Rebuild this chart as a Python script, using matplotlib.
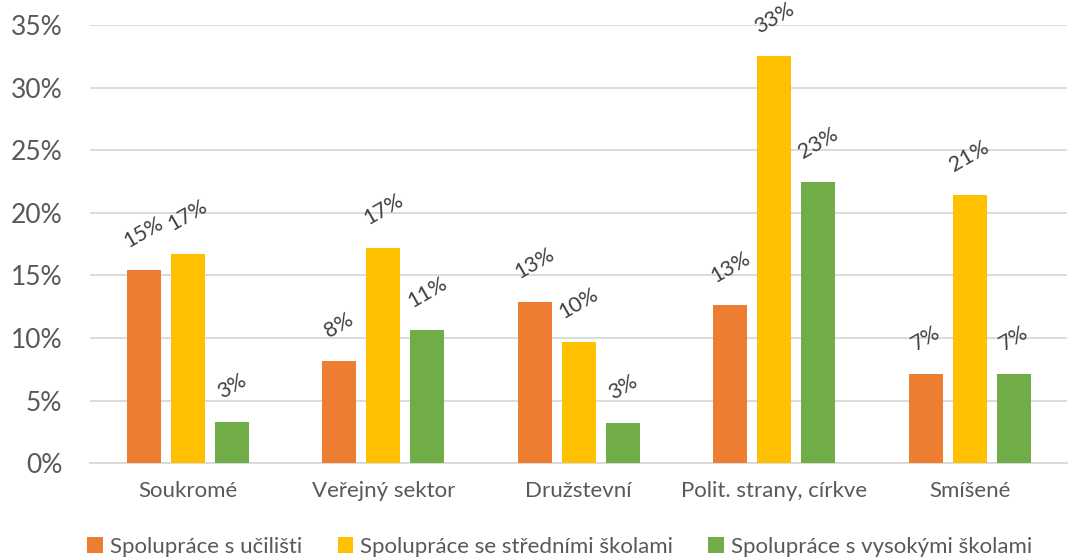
import matplotlib
matplotlib.use("Agg")
import matplotlib.pyplot as plt
import numpy as np

categories = ["Soukromé", "Veřejný sektor", "Družstevní", "Polit. strany, církve", "Smíšené"]
series_names = ["Spolupráce s učilišti", "Spolupráce se středními školami", "Spolupráce s vysokými školami"]
ucilisti = [15.4, 8.2, 12.9, 12.6, 7.1]
stredni = [16.7, 17.2, 9.7, 32.5, 21.4]
vysoke = [3.3, 10.6, 3.2, 22.5, 7.1]
colors = ["#ED7D31", "#FFC000", "#70AD47"]
yticks = [0, 5, 10, 15, 20, 25, 30, 35]

plt.rcParams['font.family'] = ['Lato', 'DejaVu Sans']
text_color = "#595959"

fig = plt.figure(figsize=(10.68, 5.6), dpi=100)
ax = fig.add_axes([0.0843, 0.173, 0.915, 0.782])

x = np.arange(len(categories))
width = 0.174
step = 0.225
for i, (vals, name, c) in enumerate(zip([ucilisti, stredni, vysoke], series_names, colors)):
    pos = x + (i - 1) * step
    ax.bar(pos, vals, width, color=c, label=name, zorder=3)
    for xp, v in zip(pos, vals):
        ax.annotate(f"{int(np.floor(v + 0.5))}%", (xp, v), xytext=(0, 14), textcoords="offset points",
                    ha="center", va="bottom", rotation=30, fontsize=15.5, color="#404040")

ax.set_xlim(-0.5, len(categories) - 0.5)
ax.set_ylim(0, 35)
ax.set_yticks(yticks)
ax.set_yticklabels([f"{t}%" for t in yticks])
ax.set_xticks(x)
ax.set_xticklabels(categories)
ax.yaxis.grid(True, color="#D9D9D9", linewidth=1.3, zorder=0)
ax.set_axisbelow(True)
for s in ["top", "right", "left"]:
    ax.spines[s].set_visible(False)
ax.spines["bottom"].set_color("#D9D9D9")
ax.spines["bottom"].set_linewidth(1.3)
ax.tick_params(axis="y", length=0, pad=20, labelsize=19, labelcolor=text_color)
ax.tick_params(axis="x", length=0, pad=13, labelsize=16, labelcolor=text_color)

fig.legend(loc="center", bbox_to_anchor=(0.524, 0.024), ncol=3, frameon=False,
           fontsize=16, handlelength=0.7, handleheight=0.7, handletextpad=0.3,
           columnspacing=1.6, labelcolor=text_color)

fig.savefig("out.png", dpi=100)
